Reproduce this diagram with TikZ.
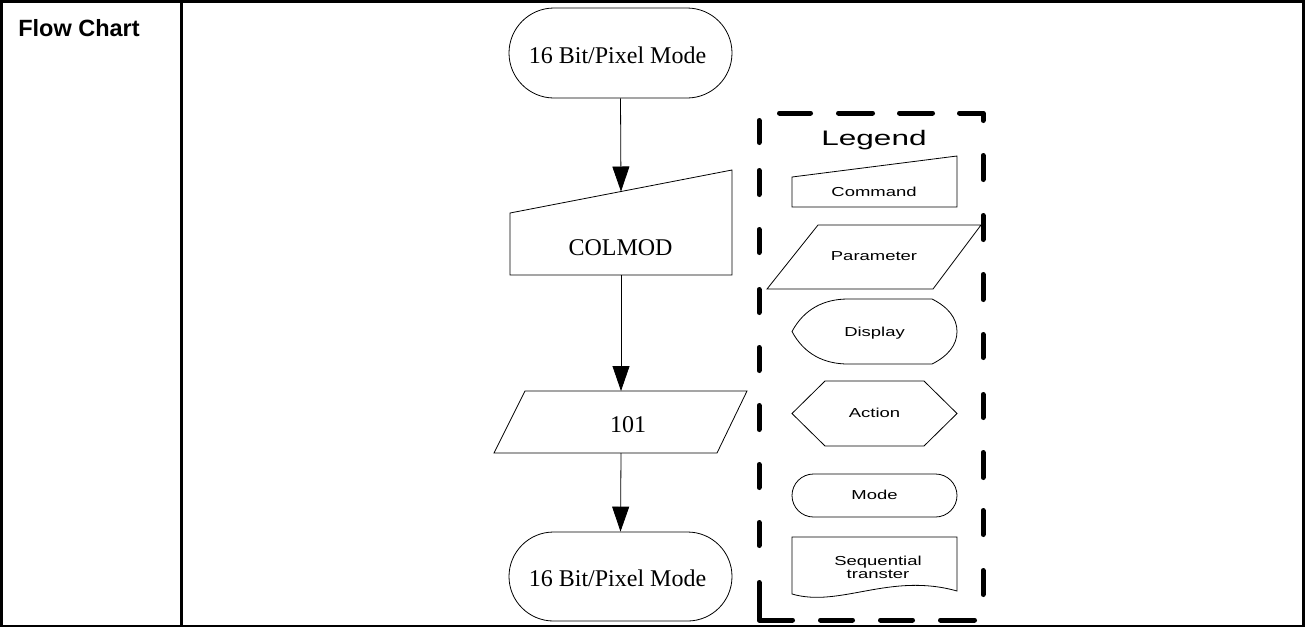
\documentclass[tikz,border=0pt]{standalone}
\usepackage{fontspec}
\setmainfont{Liberation Serif}
\newfontfamily\hsans{Liberation Sans}
\newfontfamily\wsans[FakeStretch=1.42]{Liberation Sans}
\newfontfamily\lsans[FakeStretch=1.5]{Liberation Sans}
\usetikzlibrary{arrows.meta,shapes.misc}
\begin{document}
\begin{tikzpicture}[x=1pt,y=-1pt,
  frame/.style={line width=2.2pt},
  shp/.style={draw=black,line width=0.8pt},
  term/.style={shp,rounded rectangle,inner sep=0pt},
  conn/.style={line width=0.8pt,-{Triangle[width=17pt,length=25pt]}},
  mtext/.style={anchor=base,font=\fontsize{24}{28}\selectfont,inner sep=0pt},
  ltext/.style={anchor=base,font=\wsans\fontsize{13}{13}\selectfont,inner sep=0pt},
  legdash/.style={line width=5pt,line cap=round,line join=round}]
\useasboundingbox (0,0) rectangle (1305,630);
\fill[white] (0,0) rectangle (1305,630);
% table
\draw[frame] (1.5,1.5) rectangle (1303.5,626);
\draw[frame] (181.5,1.5) -- (181.5,626);
\node[anchor=base,inner sep=0pt,font=\hsans\bfseries\fontsize{23.5}{28}\selectfont] (title) at (79,36.5) {Flow Chart};
% main flow
\node[term,minimum width=223pt,minimum height=90pt] (m1) at (620.5,53) {};
\node[mtext] (m1t) at (617.5,63) {16 Bit/Pixel Mode};
\draw[shp] (510,213) -- (732,170) -- (732,275) -- (510,275) -- cycle;
\node[mtext] (colmod) at (620.5,255) {COLMOD};
\coordinate (colin) at (621,191.5);
\coordinate (colout) at (621,275);
\draw[shp] (525,391) -- (747,391) -- (717,453) -- (494,453) -- cycle;
\node[mtext] (p101) at (628,432.5) {101};
\coordinate (pin) at (621,391);
\coordinate (pout) at (621,453);
\node[term,minimum width=223pt,minimum height=89pt] (m2) at (620.5,576.5) {};
\node[mtext] (m2t) at (617.5,586.5) {16 Bit/Pixel Mode};
\draw[conn] (m1.south) -- (colin);
\draw[conn] (colout) -- (pin);
\draw[conn] (pout) -- (m2.north);
% legend frame
\foreach \a/\b in {120.5/142.5,170.5/194.5,229.5/252.5,289.5/312.5,347.5/370.5,405.5/429.5,464.5/487.5,522.5/545.5}
  \draw[legdash] (759,\a) -- (759,\b);
\draw[legdash] (759,582.5) -- (759,620) -- (792.5,620);
\draw[legdash] (959.5,113) -- (983,113) -- (983,120.5);
\foreach \a/\b in {155.5/179.5,215.5/239.5,274.5/299.5,334.5/357.5,394.5/417.5,452.5/477.5,510.5/534.5,570.5/594.5}
  \draw[legdash] (983,\a) -- (983,\b);
\foreach \a/\b in {779.5/810.5,838.5/872.5,899.5/932.5}
  \draw[legdash] (\a,113) -- (\b,113);
\foreach \a/\b in {820.5/852.5,880.5/912.5,940.5/974.5}
  \draw[legdash] (\a,620) -- (\b,620);
\node[anchor=base,inner sep=0pt,font=\lsans\fontsize{21}{24}\selectfont] (legend) at (874,145) {Legend};
% legend shapes
\draw[shp] (792,177) -- (957,156) -- (957,207) -- (792,207) -- cycle;
\node[ltext] (lcmd) at (874,196) {Command};
\draw[shp] (818,225) -- (981,225) -- (933,289) -- (767,289) -- cycle;
\node[ltext] (lpar) at (874,260) {Parameter};
\draw[shp] (792,331.5) .. controls (804,309) and (824,299) .. (848,299) -- (932,299)
  .. controls (948,307) and (957,318) .. (957,331.5)
  .. controls (957,345) and (948,356) .. (932,364) -- (848,364)
  .. controls (824,364) and (804,354) .. cycle;
\node[ltext] (ldisp) at (874.5,336.5) {Display};
\draw[shp] (792,413.5) -- (825,381) -- (924,381) -- (957,413.5) -- (924,446) -- (825,446) -- cycle;
\node[ltext] (lact) at (874.5,417.5) {Action};
\node[term,minimum width=165pt,minimum height=43pt] (lmode) at (874.5,495.5) {};
\node[ltext] (lmodet) at (874.5,499) {Mode};
\draw[shp] (792,537) -- (957,537) -- (957,591) .. controls (890,572) and (840,608) .. (792,594) -- cycle;
\node[ltext] (lseq1) at (878,565) {Sequential};
\node[ltext] (lseq2) at (878,578) {transter};
\end{tikzpicture}
\end{document}
